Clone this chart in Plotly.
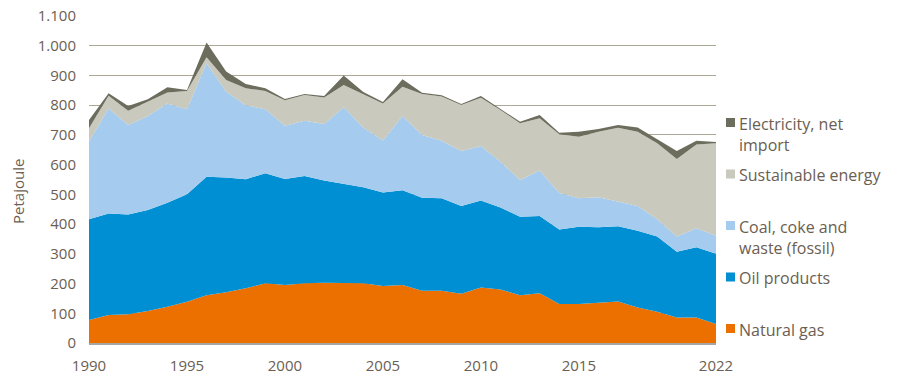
import plotly.graph_objects as go

years = list(range(1990, 2023))

natural_gas = [77, 94, 97, 108, 122, 139, 161, 171, 184, 201, 195, 201, 203, 203, 201, 192,
               195, 176, 176, 166, 187, 180, 161, 167, 131, 131, 136, 140, 119, 105, 86, 86, 64]
oil_products = [339, 342, 335, 339, 350, 361, 398, 386, 367, 370, 357, 361, 344, 333, 323, 314,
                319, 313, 311, 295, 292, 276, 264, 260, 251, 260, 253, 253, 259, 253, 221, 236, 236]
coal_coke_waste = [262, 353, 301, 317, 334, 286, 382, 288, 249, 215, 179, 186, 190, 257, 201, 175,
                   250, 211, 193, 185, 184, 154, 123, 153, 123, 96, 101, 82, 83, 58, 51, 64, 61]
sustainable = [44, 43, 48, 48, 37, 62, 20, 40, 57, 62, 86, 86, 89, 75, 113, 125,
               98, 138, 149, 155, 162, 174, 191, 176, 197, 207, 221, 249, 250, 256, 261, 282, 311]
electricity = [28, 8, 16, 8, 17, 3, 50, 28, 14, 9, 4, 4, 5, 32, 6, 5,
               25, 4, 4, 3, 6, 4, 5, 11, 5, 17, 9, 9, 14, 13, 27, 12, 4]

series_names = ["Natural gas", "Oil products", "Coal, coke and<br>waste (fossil)",
                "Sustainable energy", "Electricity, net<br>import"]
series_values = [natural_gas, oil_products, coal_coke_waste, sustainable, electricity]
series_colors = ["#EC7000", "#008FD3", "#A5CBEE", "#C9C9BD", "#6D6D5E"]

x_tickvals = [1990, 1995, 2000, 2005, 2010, 2015, 2022]
y_tickvals = list(range(0, 1101, 100))
y_ticktext = ["0"] + [f"{v:,}".replace(",", ".") for v in y_tickvals[1:]]

text_color = "#6B5E52"
font_family = "Open Sans, Noto Sans, sans-serif"

fig = go.Figure()
for name, vals, col in zip(series_names, series_values, series_colors):
    fig.add_trace(go.Scatter(
        x=years, y=vals, name=name, stackgroup="one", mode="lines",
        line=dict(width=0, color=col), fillcolor=col, showlegend=False,
        hoverinfo="x+y+name"))

L, R, T, B = 89, 716, 16, 343
W, H = 900, 383
plot_w = R - L
plot_h = B - T

fig.update_layout(
    width=W, height=H,
    margin=dict(l=L, r=W - R, t=T, b=H - B, autoexpand=False),
    paper_bgcolor="white", plot_bgcolor="white",
    font=dict(family=font_family, color=text_color, size=15),
    xaxis=dict(range=[1990, 2022], tickvals=x_tickvals, ticks="", showgrid=False,
               showline=True, linecolor="#A6A6A6", linewidth=1.5, automargin=False,
               ticklabeloverflow="allow", ticklabelstandoff=8,
               tickfont=dict(size=15, color=text_color), zeroline=False),
    yaxis=dict(range=[0, 1100], tickvals=y_tickvals, ticktext=y_ticktext, ticks="",
               showgrid=True, gridcolor="#ABA996", gridwidth=1, zeroline=False,
               automargin=False, ticklabeloverflow="allow",
               tickfont=dict(size=15, color=text_color), ticklabelstandoff=12),
)

legend_rows = [
    ("Electricity, net<br>import", "#6D6D5E", 122.5),
    ("Sustainable energy", "#C9C9BD", 174),
    ("Coal, coke and<br>waste (fossil)", "#A5CBEE", 225.5),
    ("Oil products", "#008FD3", 277),
    ("Natural gas", "#EC7000", 328.5),
]
for label, col, ypix in legend_rows:
    xs0 = (726 - L) / plot_w
    xs1 = (735 - L) / plot_w
    ys0 = (B - (ypix + 4.5)) / plot_h
    ys1 = (B - (ypix - 4.5)) / plot_h
    fig.add_shape(type="rect", xref="paper", yref="paper", x0=xs0, x1=xs1, y0=ys0, y1=ys1,
                  line=dict(width=0), fillcolor=col)
    fig.add_annotation(xref="paper", yref="paper", x=(737 - L) / plot_w,
                       y=(B - (ypix - 12)) / plot_h, xanchor="left", yanchor="top",
                       text=label, showarrow=False, align="left",
                       font=dict(size=16, color=text_color, family=font_family))

fig.add_annotation(xref="paper", yref="paper", x=(18 - L) / plot_w, y=(B - 192) / plot_h,
                   text="Petajoule", textangle=-90, showarrow=False,
                   xanchor="center", yanchor="middle",
                   font=dict(size=15, color=text_color, family=font_family))

fig.write_html("out.html", config={"displayModeBar": False},
               post_script="document.body.style.margin='0';document.body.style.overflow='hidden';")
